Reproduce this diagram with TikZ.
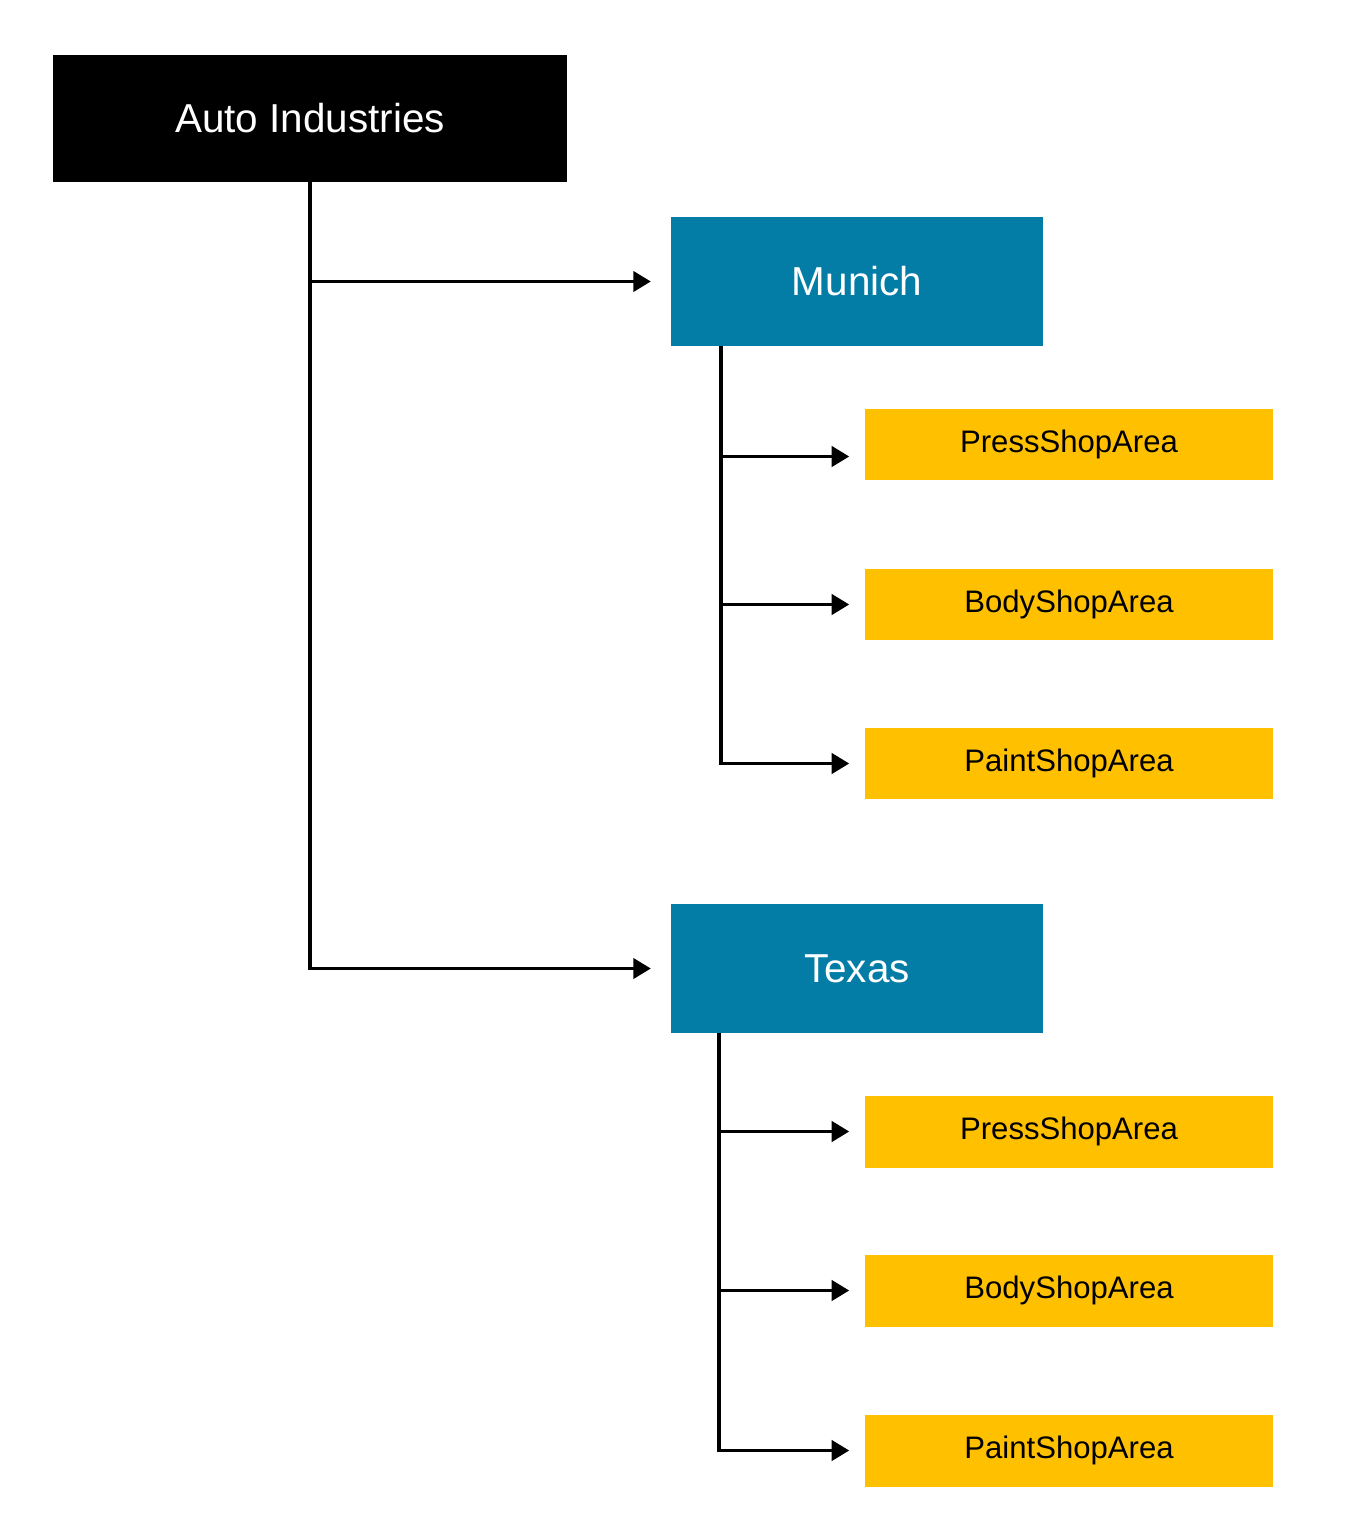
\documentclass[tikz,border=0pt]{standalone}
\usepackage{fontspec}
\setmainfont{Liberation Sans}
\usetikzlibrary{arrows.meta,positioning}
\definecolor{plantblue}{RGB}{3,125,166}
\definecolor{areayellow}{RGB}{255,192,0}

\tikzset{
  rootbox/.style={fill=black,text=white,minimum width=10.28cm,minimum height=2.54cm,
    inner sep=0pt,outer sep=0pt,font=\fontsize{23}{27}\selectfont},
  plantbox/.style={fill=plantblue,text=white,minimum width=7.44cm,minimum height=2.58cm,
    inner sep=0pt,outer sep=0pt,font=\fontsize{23}{27}\selectfont},
  areabox/.style={fill=areayellow,text=black,minimum width=8.16cm,minimum height=1.44cm,
    inner sep=0pt,outer sep=0pt,font=\fontsize{17.7}{21}\selectfont},
  link/.style={line width=2.1pt,-{Triangle[length=10pt,width=11.5pt]}},
}

\begin{document}
\begin{tikzpicture}[x=0.02cm,y=-0.02cm]
  \useasboundingbox (0,0) rectangle (1354,1513);
  % top level
  \node[rootbox] (auto) at (310,118.5) {Auto Industries};
  % plants
  \node[plantbox] (munich) at (857,281.5) {Munich};
  \node[plantbox] (texas) at (857,968.5) {Texas};
  % shop areas
  \node[areabox] (mpress) at (1069,444.5) {PressShopArea};
  \node[areabox] (mbody) at (1069,604.5) {BodyShopArea};
  \node[areabox] (mpaint) at (1069,763.5) {PaintShopArea};
  \node[areabox] (tpress) at (1069,1131.5) {PressShopArea};
  \node[areabox] (tbody) at (1069,1290.5) {BodyShopArea};
  \node[areabox] (tpaint) at (1069,1450.5) {PaintShopArea};
  % connectors
  \draw[link,shorten >=11.5pt] (auto.south) |- (munich.west);
  \draw[link,shorten >=11.5pt] (auto.south) |- (texas.west);
  \coordinate (mtrunk) at ([xshift=1cm]munich.south west);
  \coordinate (ttrunk) at ([xshift=0.96cm]texas.south west);
  \draw[link,shorten >=9pt] (mtrunk) |- ([yshift=-0.24cm]mpress.west);
  \draw[link,shorten >=9pt] (mtrunk) |- (mbody.west);
  \draw[link,shorten >=9pt] (mtrunk) |- (mpaint.west);
  \draw[link,shorten >=9pt] (ttrunk) |- (tpress.west);
  \draw[link,shorten >=9pt] (ttrunk) |- (tbody.west);
  \draw[link,shorten >=9pt] (ttrunk) |- (tpaint.west);
\end{tikzpicture}
\end{document}
